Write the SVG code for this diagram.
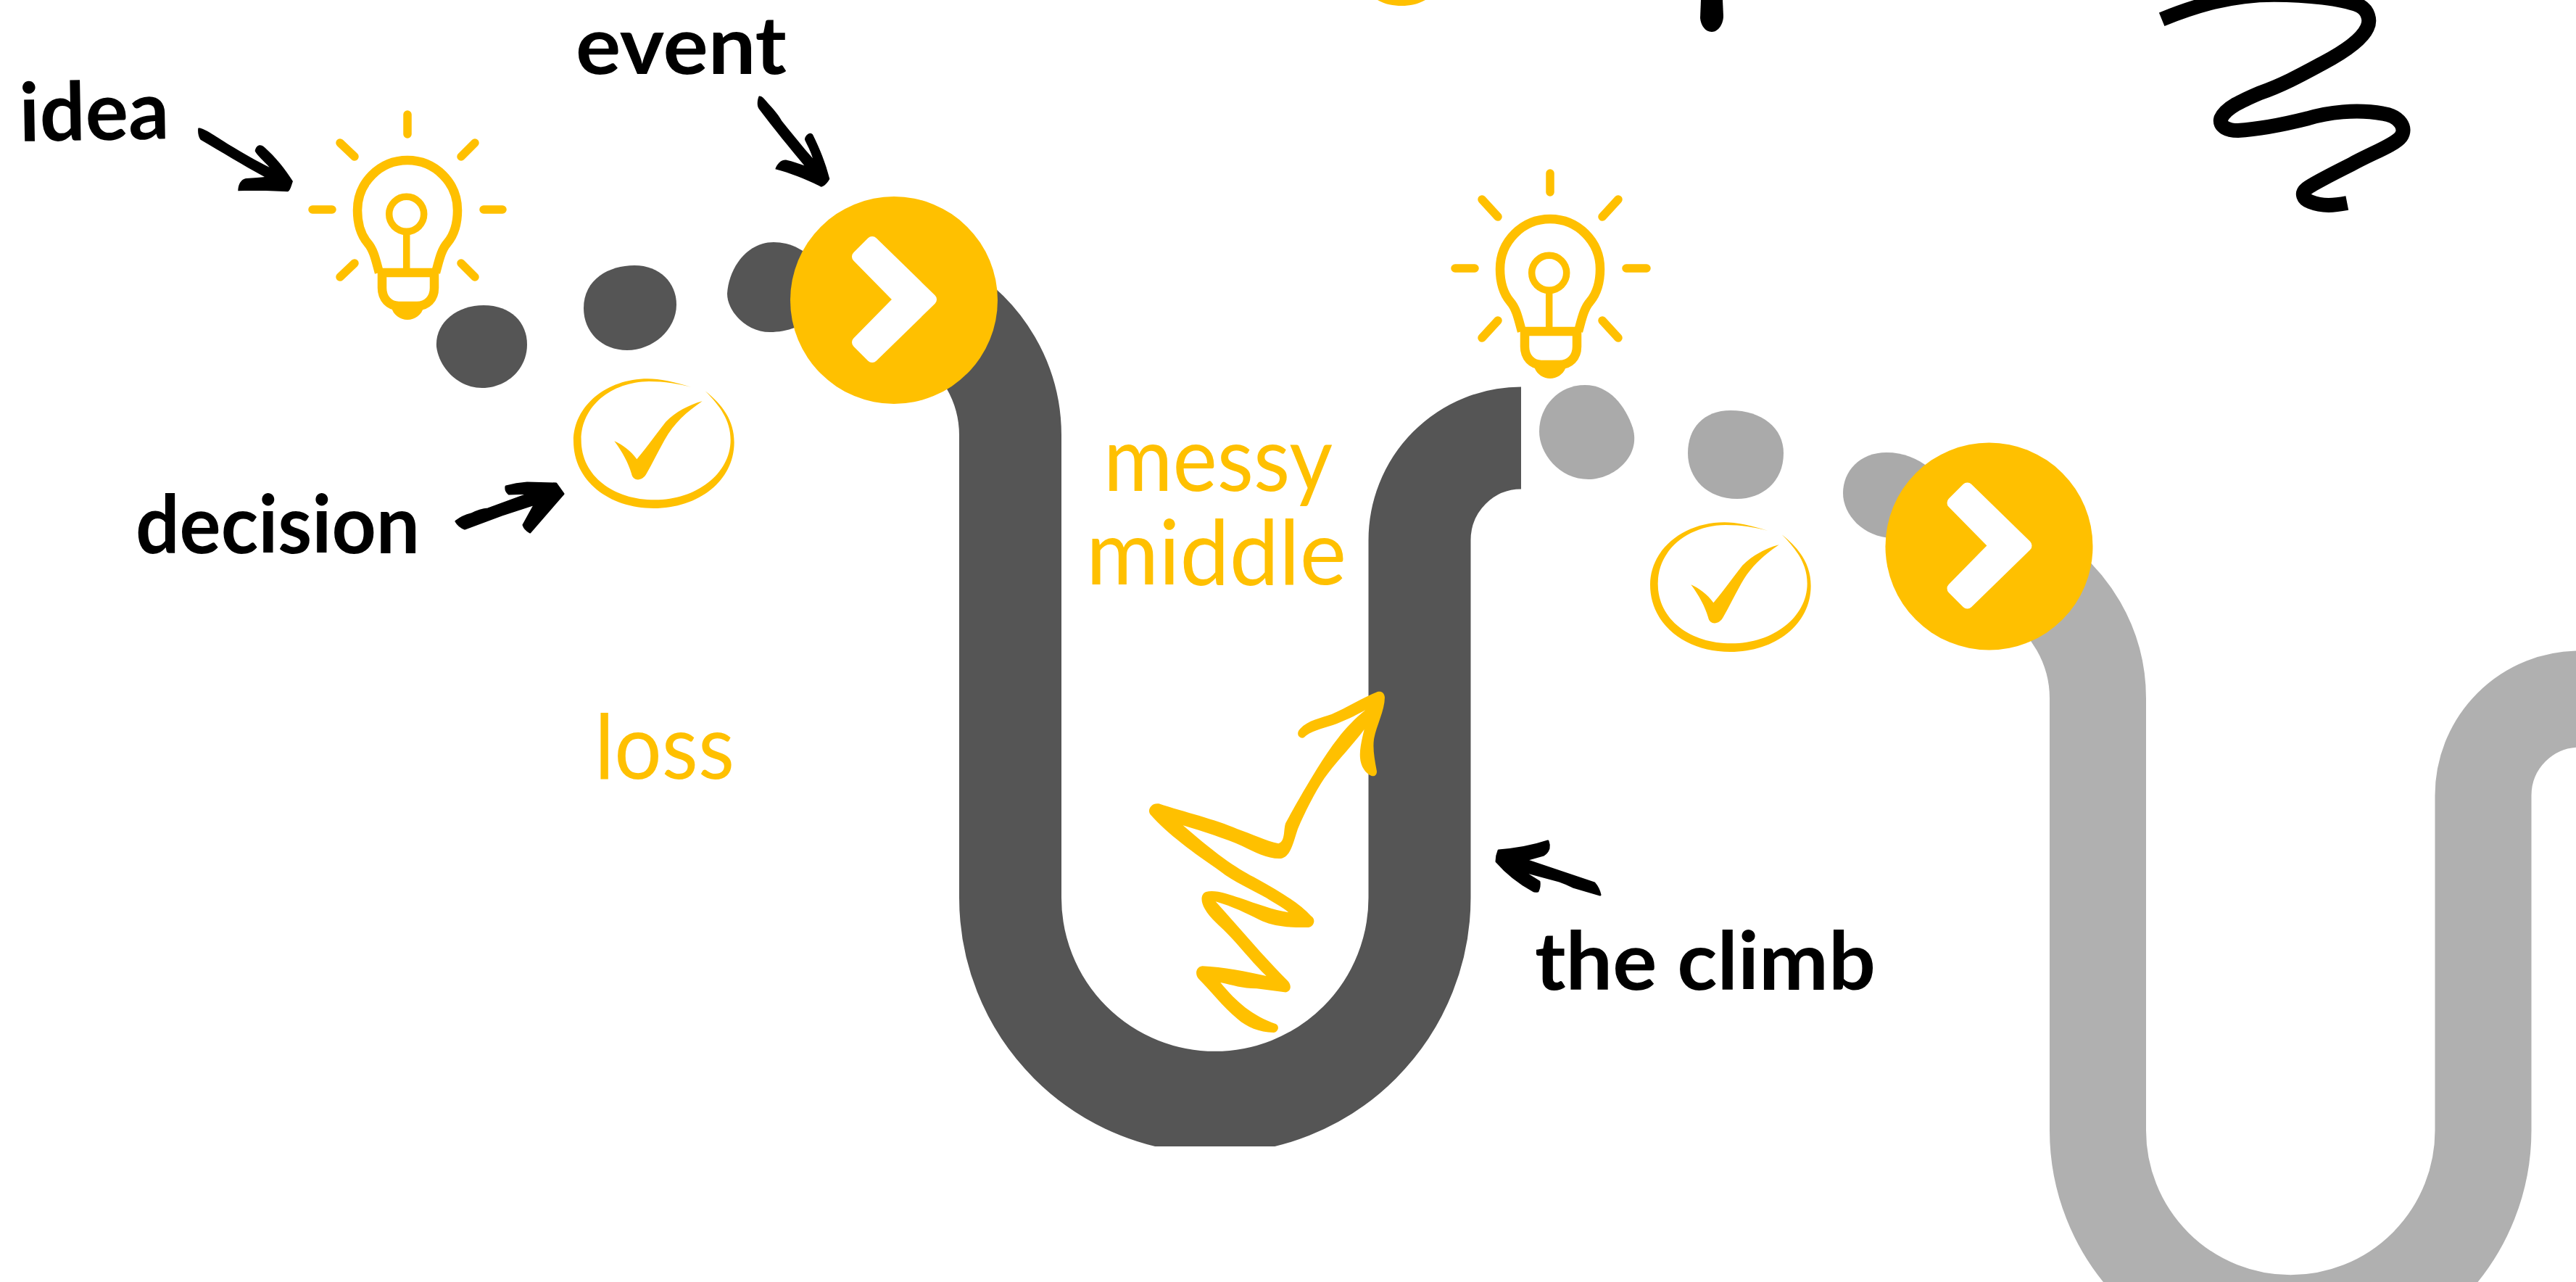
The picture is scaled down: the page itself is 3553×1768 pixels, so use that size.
<svg xmlns="http://www.w3.org/2000/svg" xmlns:xlink="http://www.w3.org/1999/xlink" width="3553" height="1768" viewBox="0 0 3553 1768">
<style>
.hand{font-family:"Lato","Liberation Sans",sans-serif;font-weight:700;fill:#000}
.thin{font-family:"Lato","Liberation Sans",sans-serif;font-weight:400;fill:#FFC000}
.y{fill:#FFC000}.k{fill:#000}
.ks{fill:#000;stroke:#000;stroke-width:3;stroke-linejoin:round}
.d{fill:#555555}.g{fill:#aaaaaa}
.track{fill:none}
.ray{fill:none;stroke:#FFC000;stroke-width:11.5;stroke-linecap:round}
.bl{fill:none;stroke:#FFC000;stroke-width:12.5}
</style>
<defs>
<clipPath id="clipDark"><rect x="0" y="0" width="3553" height="1581"/></clipPath>
<g id="badge">
<circle cx="1233" cy="414" r="143" fill="#FFC000"/>
<path d="M1203 334L1284 413L1203 492L1183 472L1241 413L1183 354Z" fill="#fff" stroke="#fff" stroke-width="16" stroke-linejoin="round"/>
</g>
<g id="bulb">
<path class="bl" d="M523 376C519 362 516 345 507 335C497 323 493 308 493 290A69 69 0 0 1 631 290C631 308 627 323 617 335C608 345 605 362 601 376"/>
<path class="bl" d="M521 376H603M527 376V397C527 412 537 422 550 422H575C589 422 599 412 599 397V376"/>
<path class="y" d="M540 424C542 434 552 441 562 441C572 441 582 434 584 424Z"/>
<circle cx="560.7" cy="295.3" r="24" fill="none" stroke="#FFC000" stroke-width="9.5"/>
<path d="M560.7 320V372" fill="none" stroke="#FFC000" stroke-width="9.5"/>
</g>
<g id="check">
<path class="y" d="M550 102C480 80 420 67 370 67C200 67 63 180 63 325C63 490 210 603 395 603C580 603 728 490 728 330C728 240 680 175 608 118C670 180 713 240 713 320C713 460 570 568 400 568C230 568 95 470 95 320C95 180 220 80 375 78C440 78 500 88 550 102Z"/>
<path class="y" d="M232 325C265 340 300 365 325 400C370 345 410 290 445 245C485 205 540 175 596 160C530 205 480 250 440 320C415 365 390 415 365 460C350 490 310 495 303 460C290 415 265 370 232 325Z"/>
</g>
</defs>
<rect width="3553" height="1768" fill="#fff"/>
<g id="connectors">
<path id="track-dark" class="track" clip-path="url(#clipDark)" stroke="#555555" stroke-width="141" d="M1293 427A200 200 0 0 1 1393.5 600V1238A282.25 282.25 0 0 0 1958 1238V745A140 141 0 0 1 2098 604"/>
<path id="track-grey" class="track" stroke="#b0b0b0" stroke-width="133" d="M2793.5 790A200 200 0 0 1 2893.5 963V1559A265.75 265.75 0 0 0 3425 1559V1097A133 133 0 0 1 3558 964"/>
<g id="arrows">
<path class="k" transform="scale(.3333)" d="M820 530C835 525 880 555 950 600C1000 630 1060 665 1115 692C1090 665 1065 645 1055 625C1060 598 1080 595 1095 610C1140 650 1180 700 1212 750C1205 770 1200 792 1190 793C1130 790 1050 788 985 790C985 760 1000 740 1020 738C1050 735 1080 735 1095 732C1000 680 920 630 830 578C820 565 818 545 820 530Z"/>
<path class="k" transform="translate(770 0) scale(.3333)" d="M830 398C840 395 850 405 860 418C880 442 905 465 925 500C965 550 1010 605 1053 655C1045 625 1030 600 1020 578C1020 560 1045 540 1055 560C1080 610 1105 670 1123 740C1115 755 1100 772 1088 773C1030 745 960 715 898 700C905 680 920 660 945 662C970 668 995 676 1018 685C960 615 890 530 830 450C820 435 825 410 830 398Z"/>
<path class="ks" d="M629 719Q638 712 650 709Q662 703 673 702L733 680L702 681Q697 677 698 671Q712 667 727 666L767 667L777 681L731 734Q724 730 722 724L738 695L692 710L641 729Q633 726 629 719Z"/>
<path class="ks" d="M2067 1173Q2105 1170 2135 1160Q2137 1165 2136 1170Q2134 1176 2129 1179L2104 1186L2199 1218Q2205 1225 2207 1234L2169.5 1223Q2160 1218 2151 1215L2099 1201L2123 1216Q2124 1223 2121 1229Q2117 1230 2114 1228Q2085 1212 2064 1188Q2064 1180 2067 1173Z"/>
<path class="y" transform="translate(1560 930) scale(.3333)" d="M600 1447C500 1410 440 1360 370 1275C420 1285 460 1300 520 1300L635 1315C655 1318 670 1295 650 1270C550 1170 450 1050 350 940C420 960 480 990 530 1015C590 1045 660 1048 735 1047C755 1045 768 1015 745 1000C700 950 620 900 520 845C450 810 370 760 215 625C300 650 390 680 460 710C510 735 570 765 620 762C660 755 670 700 690 640C720 570 760 490 800 430C850 360 920 290 965 228C955 270 945 310 948 345C950 380 970 410 995 420C1012 425 1020 410 1016 395C1008 350 1000 310 1005 270C1012 220 1050 150 1050 95C1048 75 1035 68 1020 72C960 95 890 140 830 165C790 180 730 190 700 225C680 245 695 268 715 262C740 235 790 225 835 210C880 195 930 170 970 148C880 220 820 310 770 390C730 455 680 540 640 615C630 640 640 690 610 700C560 690 500 660 440 640C350 600 220 570 115 535C85 530 65 560 80 580C150 660 260 740 370 815C420 855 500 890 560 925C590 945 630 965 652 985C590 975 520 950 450 925C400 910 350 890 310 900C285 910 290 945 305 970C330 1015 380 1050 420 1095C470 1150 510 1200 560 1248C480 1230 380 1210 295 1207C270 1210 262 1240 280 1260C330 1310 380 1375 440 1425C480 1460 530 1480 590 1482C610 1480 615 1455 600 1447Z"/>
</g>
</g>
<g id="dots-dark">
<path class="d" d="M667 421C705 421 727 445 727 475C727 510 698 535 665 535C630 535 605 505 602 478C600 445 630 421 667 421Z"/>
<path class="d" d="M875 366C910 366 933 390 933 420C933 455 900 483 865 483C830 483 805 458 805 425C805 385 840 366 875 366Z"/>
<path class="d" d="M1067 334C1090 334 1115 345 1130 370V430C1110 450 1085 458 1062 458C1030 458 1003 430 1003 405C1005 370 1030 334 1067 334Z"/>
</g>
<g id="dots-grey">
<path class="g" d="M2186 531C2220 531 2242 560 2252 590C2264 630 2225 661 2191 661C2150 661 2123 625 2123 595C2123 560 2150 531 2186 531Z"/>
<path class="g" d="M2387 566C2430 566 2460 590 2460 625C2460 665 2430 688 2396 688C2355 688 2328 660 2328 625C2328 590 2350 566 2387 566Z"/>
<path class="g" d="M2602 624C2625 624 2645 632 2660 645L2610 742C2570 741 2542 710 2542 680C2542 650 2565 624 2602 624Z"/>
</g>
<g id="badge-1"><use href="#badge"/></g>
<g id="badge-2"><use href="#badge" transform="translate(1510.5 339.5)"/></g>
<g id="bulb-1">
<use href="#bulb"/>
<path class="ray" d="M562 158V185M431 289H458M667 289H693M469 197L489 216M655 197L636 216M469 382L489 363M655 382L636 363"/>
</g>
<g id="bulb-2">
<use href="#bulb" transform="translate(1576 81)"/>
<path class="ray" d="M2138 239V265M2007 370H2034M2243 370H2271M2044 275L2066 299M2232 275L2210 299M2044 466L2066 442M2232 466L2210 442"/>
</g>
<g id="check-1"><use href="#check" transform="translate(770 500) scale(.3333)"/></g>
<g id="check-2"><use href="#check" transform="translate(2255 698) scale(.3333)"/></g>
<g id="labels">
<text class="hand" x="27" y="195" font-size="112" textLength="207" lengthAdjust="spacingAndGlyphs" transform="rotate(-1 27 195)">idea</text>
<text class="hand" x="794" y="102" font-size="112" textLength="291" lengthAdjust="spacingAndGlyphs">event</text>
<text class="hand" x="187" y="763" font-size="112" textLength="392" lengthAdjust="spacingAndGlyphs">decision</text>
<text class="hand" x="2117" y="1365" font-size="112" textLength="470" lengthAdjust="spacingAndGlyphs">the climb</text>
<text class="thin" x="820" y="1074" font-size="124" textLength="193" lengthAdjust="spacingAndGlyphs">loss</text>
<text class="thin" x="1522" y="677" font-size="124" textLength="316" lengthAdjust="spacingAndGlyphs">messy</text>
<text class="thin" x="1498" y="806" font-size="124" textLength="359" lengthAdjust="spacingAndGlyphs">middle</text>
</g>
<g id="top-fragments">
<path class="y" d="M1900 0C1910 6 1922 8 1933 8C1945 8 1955 6 1966 0Z"/>
<path class="k" d="M2346 0L2345 25C2346 35 2352 44 2361 44C2370 44 2377 33 2377 22L2376 0Z"/>
<path fill="none" stroke="#000" stroke-width="60" transform="translate(2950 0) scale(.3333)" d="M95 80C230 25 380 -22 560 -22C700 -22 840 -5 910 22C950 40 960 85 945 115C920 170 830 225 760 262C680 305 600 350 500 385C430 415 360 445 340 490C330 525 370 540 410 540C500 535 620 510 700 490C780 465 900 450 1010 470C1080 480 1110 530 1085 565C1060 600 960 635 880 680C800 720 720 760 695 780C670 800 680 825 710 835C760 855 810 850 862 840"/>
</g>
</svg>
